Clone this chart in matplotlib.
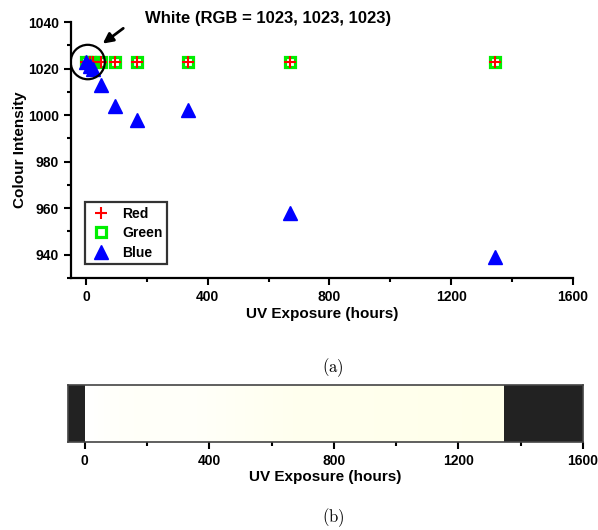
import numpy as np
import matplotlib
matplotlib.use("Agg")
import matplotlib.pyplot as plt
from matplotlib.patches import Ellipse

plt.rcParams['font.family'] = ['Liberation Sans', 'DejaVu Sans']
plt.rcParams['mathtext.fontset'] = 'cm'

# ---- data ----
hours = [0, 12, 24, 48, 96, 168, 336, 672, 1344]
red = [1023, 1023, 1023, 1023, 1023, 1023, 1023, 1023, 1023]
green = [1023, 1023, 1023, 1023, 1023, 1023, 1023, 1023, 1023]
blue = [1023, 1021, 1020, 1013, 1004, 998, 1002, 958, 939]
xticks = [0, 400, 800, 1200, 1600]
yticks = [940, 960, 980, 1000, 1020, 1040]
max_val = 1023

fig = plt.figure(figsize=(5.98, 5.30), dpi=100)

# ---------------- (a) ----------------
ax = fig.add_axes([71/598, 1-278/530, (573-71)/598, (278-22)/530])
ax.plot(hours, red, linestyle='none', marker='+', color='red', ms=9, mew=1.5, label='Red', zorder=4)
ax.plot(hours, green, linestyle='none', marker='s', mfc='none', mec='#00ee00', ms=7.5, mew=2.3, label='Green', zorder=3)
ax.plot(hours, blue, linestyle='none', marker='^', color='blue', ms=10, label='Blue', zorder=5)

ax.set_xlim(-49, 1600)
ax.set_ylim(930, 1040)
ax.set_xticks(xticks)
ax.set_xticks([200, 600, 1000, 1400], minor=True)
ax.set_yticks(yticks)
ax.set_yticks([930, 950, 970, 990, 1010, 1030], minor=True)
for s in ['top', 'right']:
    ax.spines[s].set_visible(False)
for s in ['left', 'bottom']:
    ax.spines[s].set_linewidth(1.6)
ax.tick_params(which='major', length=5, width=1.5, labelsize=10)
ax.tick_params(which='minor', length=3, width=1.5)
for lab in ax.get_xticklabels() + ax.get_yticklabels():
    lab.set_fontweight('bold')
ax.set_xlabel('UV Exposure (hours)', fontsize=11, fontweight='bold', labelpad=2)
ax.set_ylabel('Colour Intensity', fontsize=11, fontweight='bold', labelpad=1)

leg = ax.legend(loc='lower left', bbox_to_anchor=(0.028, 0.055), borderaxespad=0,
                frameon=True, fancybox=False,
                edgecolor='black', prop={'weight': 'bold', 'size': 10},
                handletextpad=0.7, borderpad=0.3, labelspacing=0.4, handlelength=1.7)
leg.get_frame().set_linewidth(1.6)

circ = Ellipse((6, 1022.8), width=112, height=14.8, fill=False, edgecolor='black', lw=1.6, zorder=6)
ax.add_patch(circ)
ax.annotate('', xy=(48, 1030.0), xytext=(130, 1038.0),
            arrowprops=dict(arrowstyle='-|>,head_length=0.6,head_width=0.3', color='black', lw=2),
            annotation_clip=False)
ax.text(194, 1041.7, 'White (RGB = 1023, 1023, 1023)', fontsize=12, fontweight='bold',
        ha='left', va='center', clip_on=False)

fig.text(333/598, 1-368/530, r'$\mathrm{(a)}$', fontsize=12, ha='center', va='center')

# ---------------- (b) ----------------
bx = fig.add_axes([67.6/598, 1-441.7/530, (583-67.6)/598, (441.7-384.5)/530])
bx.set_facecolor('#222222')
grid = np.linspace(hours[0], hours[-1], 600)
r = np.interp(grid, hours, np.array(red) / max_val)
g = np.interp(grid, hours, np.array(green) / max_val)
b = np.interp(grid, hours, np.array(blue) / max_val)
img = np.stack([r, g, b], axis=-1)[np.newaxis, :, :]
bx.imshow(img, extent=(hours[0], hours[-1], 0, 1), aspect='auto', interpolation='bilinear')
bx.set_xlim(-55, 1600)
bx.set_ylim(0, 1)
bx.set_yticks([])
bx.set_xticks(xticks)
bx.set_xticks([200, 600, 1000, 1400], minor=True)
for s in bx.spines.values():
    s.set_color('#444444')
    s.set_linewidth(1.2)
bx.tick_params(which='major', length=5, width=1.5, labelsize=10)
bx.tick_params(which='minor', length=3, width=1.5)
for lab in bx.get_xticklabels():
    lab.set_fontweight('bold')
bx.set_xlabel('UV Exposure (hours)', fontsize=11, fontweight='bold', labelpad=2)

fig.text(333/598, 1-518/530, r'$\mathrm{(b)}$', fontsize=12, ha='center', va='center')

fig.savefig('out.png', dpi=100)
